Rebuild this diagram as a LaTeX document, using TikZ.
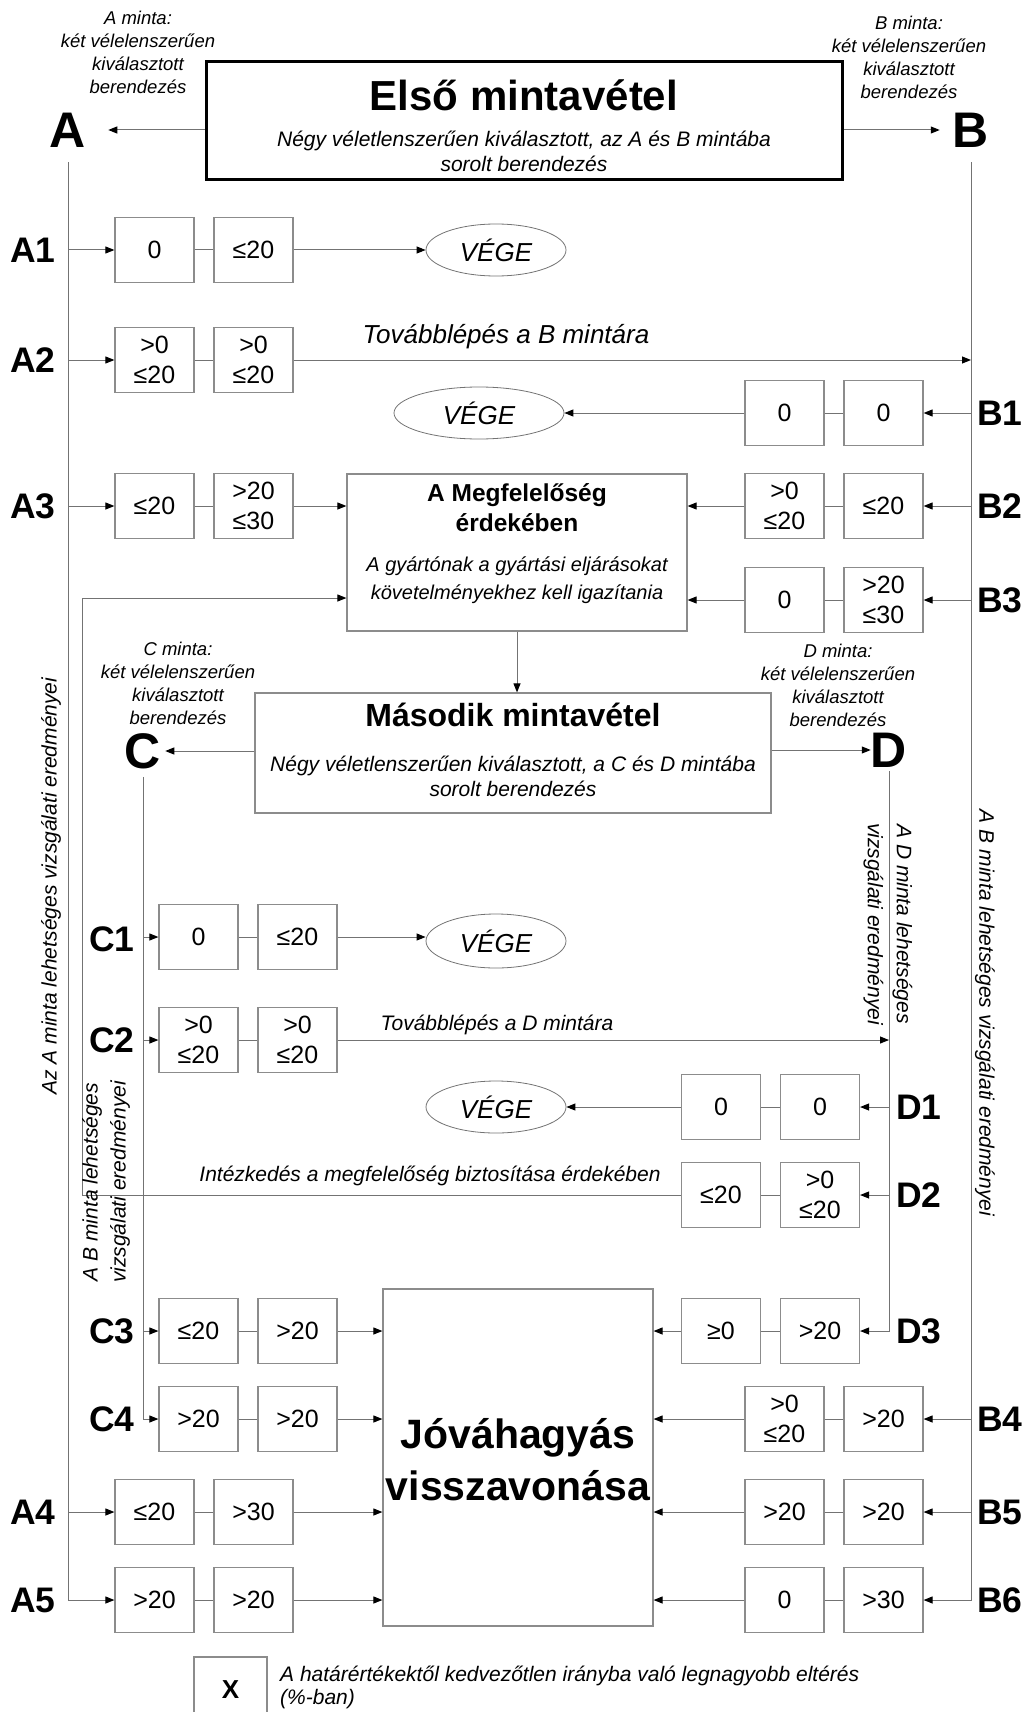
\documentclass[tikz,border=0pt]{standalone}
\usepackage{fontspec}
\setmainfont{Liberation Sans}
\usetikzlibrary{arrows.meta,shapes.geometric}
\definecolor{boxgray}{gray}{0.55}
\definecolor{linegray}{gray}{0.45}
\newcommand{\numfont}{\fontsize{25}{30}\selectfont}
\newcommand{\rowfont}{\fontsize{35.5}{40}\selectfont\bfseries}
\newcommand{\letfont}{\fontsize{50}{55}\selectfont\bfseries}
\newcommand{\sidefont}{\fontsize{18.5}{23}\selectfont\itshape}
\newcommand{\notefont}{\fontsize{21}{25}\selectfont\itshape}
\tikzset{
  valbox/.style={draw=boxgray, line width=1.2pt, minimum width=79pt, minimum height=65pt, inner sep=0pt, align=center, font=\numfont},
  conn/.style={draw=linegray, line width=1pt},
  arr/.style={conn, -{Triangle[length=9pt,width=7pt,color=black]}},
  vege/.style={ellipse, draw=linegray, line width=0.8pt, minimum width=140pt, minimum height=52pt, inner sep=0pt, font=\fontsize{26}{30}\selectfont\itshape},
  rowlbl/.style={font=\rowfont, inner sep=0pt},
  letter/.style={font=\letfont, inner sep=0pt},
  side/.style={font=\sidefont, align=center, inner sep=0pt},
  note/.style={font=\notefont, align=center, inner sep=0pt},
  bigbox/.style={draw=boxgray, line width=1.2pt, inner sep=0pt}
}

\begin{document}
\begin{tikzpicture}[x=1pt, y=-1pt]
    \useasboundingbox (0,0) rectangle (1030,1712);

    % first sampling
    \node (first) at (524,121) [draw=black, line width=3pt, minimum width=636pt, minimum height=118pt] {};
    \node (firstt) at (524,95) [font=\fontsize{42}{46}\selectfont\bfseries] {Első mintavétel};
    \node (firsts) at (524,151) [note] {Négy véletlenszerűen kiválasztott, az A és B mintába\\sorolt berendezés};

    \node (A) at (68,130) [letter] {A};
    \node (B) at (971,130) [letter] {B};
    \node (at) at (138,52) [side] {A minta:\\két vélelenszerűen\\kiválasztott\\berendezés};
    \node (bt) at (909,57) [side] {B minta:\\két vélelenszerűen\\kiválasztott\\berendezés};
    \draw[arr, shorten >=22pt] (first.west |- A.east) -- (A.east);
    \draw[arr, shorten >=13pt] (first.east |- B.west) -- (B.west);

    % A and B results
    \node (a1a) at (154.5,250) [valbox] {0};
    \node (a1b) at (253.5,250) [valbox] {≤20};
    \node (a2a) at (154.5,360) [valbox] {>0\\≤20};
    \node (a2b) at (253.5,360) [valbox] {>0\\≤20};
    \node (a3a) at (154.5,506) [valbox] {≤20};
    \node (a3b) at (253.5,506) [valbox] {>20\\≤30};
    \node (a4a) at (154.5,1512) [valbox] {≤20};
    \node (a4b) at (253.5,1512) [valbox] {>30};
    \node (a5a) at (154.5,1600) [valbox] {>20};
    \node (a5b) at (253.5,1600) [valbox] {>20};

    \node (b1a) at (784.5,413) [valbox] {0};
    \node (b1b) at (883.5,413) [valbox] {0};
    \node (b2a) at (784.5,506) [valbox] {>0\\≤20};
    \node (b2b) at (883.5,506) [valbox] {≤20};
    \node (b3a) at (784.5,600) [valbox] {0};
    \node (b3b) at (883.5,600) [valbox] {>20\\≤30};
    \node (b4a) at (784.5,1419) [valbox] {>0\\≤20};
    \node (b4b) at (883.5,1419) [valbox] {>20};
    \node (b5a) at (784.5,1512) [valbox] {>20};
    \node (b5b) at (883.5,1512) [valbox] {>20};
    \node (b6a) at (784.5,1600) [valbox] {0};
    \node (b6b) at (883.5,1600) [valbox] {>30};

    \node (A1) at (33,250) [rowlbl] {A1};
    \node (A2) at (33,360) [rowlbl] {A2};
    \node (A3) at (33,506) [rowlbl] {A3};
    \node (A4) at (33,1512) [rowlbl] {A4};
    \node (A5) at (33,1600) [rowlbl] {A5};
    \node (B1) at (1000,413) [rowlbl] {B1};
    \node (B2) at (1000,506) [rowlbl] {B2};
    \node (B3) at (1000,600) [rowlbl] {B3};
    \node (B4) at (1000,1419) [rowlbl] {B4};
    \node (B5) at (1000,1512) [rowlbl] {B5};
    \node (B6) at (1000,1600) [rowlbl] {B6};

    \draw[arr, shorten <=15pt] (A.south) |- (a5a.west);
    \draw[arr, shorten <=15pt] (B.south) |- (b6b.east);
    \foreach \r in {1,2,3,4} {
        \draw[arr] (A.south |- a\r a.west) -- (a\r a.west);
        \draw[conn] (a\r a.east) -- (a\r b.west);
    }
    \draw[conn] (a5a.east) -- (a5b.west);
    \foreach \r in {1,2,3,4,5} {
        \draw[arr] (B.south |- b\r b.east) -- (b\r b.east);
        \draw[conn] (b\r a.east) -- (b\r b.west);
    }
    \draw[conn] (b6a.east) -- (b6b.west);

    \node (e1) at (496,250) [vege] {VÉGE};
    \node (e2) at (479,413) [vege, minimum width=170pt] {VÉGE};
    \draw[arr] (a1b.east) -- (e1.west);
    \draw[arr] (b1a.west) -- (e2.east);

    \node (tovb) at (506,337) [note, font=\fontsize{26}{30}\selectfont\itshape] {Továbblépés a B mintára};
    \draw[arr] (a2b.east) -- (B.south |- a2b.east);

    % conformity box
    \node (megf) at (517,552.5) [bigbox, minimum width=340pt, minimum height=157pt] {};
    \node (megft) at (517,508) [align=center, font=\fontsize{24.5}{30}\selectfont\bfseries] {A Megfelelőség\\érdekében};
    \node (megfs) at (517,580) [align=center, font=\fontsize{20}{28}\selectfont\itshape] {A gyártónak a gyártási eljárásokat\\követelményekhez kell igazítania};
    \draw[arr] (a3b.east) -- (megf.west |- a3b.east);
    \draw[arr] (b2a.west) -- (megf.east |- b2a.west);
    \draw[arr] (b3a.west) -- (megf.east |- b3a.west);

    % second sampling
    \node (second) at (513,753) [bigbox, minimum width=516pt, minimum height=120pt] {};
    \node (secondt) at (513,715) [font=\fontsize{32}{36}\selectfont\bfseries] {Második mintavétel};
    \node (seconds) at (513,776) [note] {Négy véletlenszerűen kiválasztott, a C és D mintába\\sorolt berendezés};
    \draw[arr] (megf.south) -- (megf.south |- second.north);

    \node (C) at (143,751) [letter] {C};
    \node (D) at (889,750) [letter] {D};
    \node (ct) at (178,683) [side] {C minta:\\két vélelenszerűen\\kiválasztott\\berendezés};
    \node (dt) at (838,685) [side] {D minta:\\két vélelenszerűen\\kiválasztott\\berendezés};
    \draw[arr, shorten >=4pt] (second.west |- C.east) -- (C.east);
    \draw[arr] (second.east |- D.west) -- (D.west);

    % C and D results
    \node (c1a) at (198.5,937) [valbox] {0};
    \node (c1b) at (297.5,937) [valbox] {≤20};
    \node (c2a) at (198.5,1040) [valbox] {>0\\≤20};
    \node (c2b) at (297.5,1040) [valbox] {>0\\≤20};
    \node (c3a) at (198.5,1331) [valbox] {≤20};
    \node (c3b) at (297.5,1331) [valbox] {>20};
    \node (c4a) at (198.5,1419) [valbox] {>20};
    \node (c4b) at (297.5,1419) [valbox] {>20};

    \node (d1a) at (721,1107) [valbox] {0};
    \node (d1b) at (820,1107) [valbox] {0};
    \node (d2a) at (721,1195) [valbox] {≤20};
    \node (d2b) at (820,1195) [valbox] {>0\\≤20};
    \node (d3a) at (721,1331) [valbox] {≥0};
    \node (d3b) at (820,1331) [valbox] {>20};

    \node (C1) at (112,939) [rowlbl] {C1};
    \node (C2) at (112,1040) [rowlbl] {C2};
    \node (C3) at (112,1331) [rowlbl] {C3};
    \node (C4) at (112,1419) [rowlbl] {C4};
    \node (D1) at (919,1107) [rowlbl] {D1};
    \node (D2) at (919,1195) [rowlbl] {D2};
    \node (D3) at (919,1331) [rowlbl] {D3};

    \draw[arr, shorten <=8pt] (C.south) |- (c4a.west);
    \draw[arr, shorten <=4pt] (D.south) |- (d3b.east);
    \foreach \r in {1,2,3} {
        \draw[arr] (C.south |- c\r a.west) -- (c\r a.west);
        \draw[conn] (c\r a.east) -- (c\r b.west);
    }
    \draw[conn] (c4a.east) -- (c4b.west);
    \foreach \r in {1,2} {
        \draw[arr] (D.south |- d\r b.east) -- (d\r b.east);
        \draw[conn] (d\r a.east) -- (d\r b.west);
    }
    \draw[conn] (d3a.east) -- (d3b.west);

    \node (e3) at (496,941) [vege, minimum height=54pt] {VÉGE};
    \node (e4) at (496,1107) [vege] {VÉGE};
    \draw[arr] (c1b.east) -- (c1b.east -| e3.west);
    \draw[arr] (d1a.west) -- (d1a.west -| e4.east);

    \node (tovd) at (497,1025) [note] {Továbblépés a D mintára};
    \draw[arr] (c2b.east) -- (D.south |- c2b.east);

    \node (intez) at (430,1176) [note] {Intézkedés a megfelelőség biztosítása érdekében};
    \coordinate (fb) at (82,598);
    \draw[arr] (d2a.west) -| (fb) -- (fb -| megf.west);

    % withdrawal
    \node (big) at (518,1457.5) [bigbox, minimum width=270pt, minimum height=337pt] {};
    \node (bigt) at (518,1460) [align=center, font=\fontsize{41}{52}\selectfont\bfseries] {Jóváhagyás\\visszavonása};
    \foreach \n in {c3,c4,a4,a5}
        \draw[arr] (\n b.east) -- (big.west |- \n b.east);
    \foreach \n in {d3,b4,b5,b6}
        \draw[arr] (\n a.west) -- (big.east |- \n a.west);

    % side texts
    \node (atxt) at (51,886) [note, rotate=90] {Az A minta lehetséges vizsgálati eredményei};
    \node (btxt) at (985,1013) [note, rotate=-90] {A B minta lehetséges vizsgálati eredményei};
    \node (dtxt) at (888,924) [note, rotate=-90, font=\fontsize{21}{29}\selectfont\itshape] {A D minta lehetséges\\vizsgálati eredményei};
    \node (ctxt) at (106,1182) [note, rotate=90, font=\fontsize{21}{28}\selectfont\itshape] {A B minta lehetséges\\vizsgálati eredményei};

    % legend
    \node (lgx) at (230.5,1690) [draw=boxgray, line width=1.2pt, minimum width=73pt, minimum height=66pt, font=\fontsize{26}{30}\selectfont\bfseries] {X};
    \node (lgt) at (280,1687) [anchor=west, align=left, inner sep=0pt, font=\fontsize{21}{23}\selectfont\itshape] {A határértékektől kedvezőtlen irányba való legnagyobb eltérés\\(\%-ban)};
\end{tikzpicture}
\end{document}
